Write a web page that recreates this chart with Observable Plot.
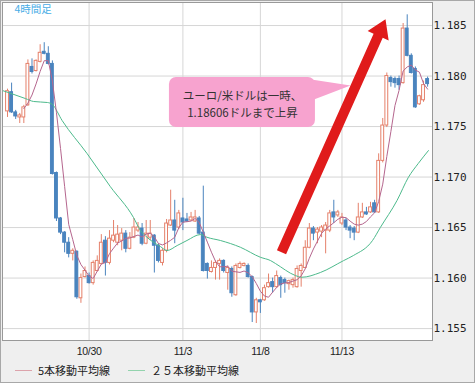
<!DOCTYPE html>
<html><head><meta charset="utf-8">
<script src="https://cdn.jsdelivr.net/npm/d3@7"></script>
<script src="https://cdn.jsdelivr.net/npm/@observablehq/plot@0.6"></script>
<style>
body{margin:0;background:#fff}
#wrap{position:relative;width:475px;height:383px;box-sizing:border-box;border:1px solid #a8a8a8;background:#efefef;overflow:hidden}
#chart svg{display:block}
#chart [aria-label^="y-axis"] text{font-family:"DejaVu Sans Mono",monospace;font-size:11px;fill:#222}
#chart [aria-label^="x-axis"] text{font-family:"Liberation Sans",sans-serif;font-size:10.5px;fill:#222;letter-spacing:-0.3px}
.lg{position:absolute;font-family:"Noto Sans CJK JP",sans-serif;font-size:11px;line-height:14px;color:#222;white-space:nowrap}
.ln{position:absolute;height:1px;width:17px}
</style></head><body>
<div id="wrap"><div id="chart"></div></div>
<script>
// ---- data (EUR/USD 4-hour candles) ----
const opens = [1.1765,1.1784,1.1764,1.1759,1.1759,1.1771,1.1809,1.1805,1.1814,1.1824,
1.1822,1.1812,1.1704,1.1659,1.1645,1.1635,1.1624,1.1626,1.1580,1.1601,
1.1602,1.1595,1.1607,1.1614,1.1637,1.1615,1.1637,1.1635,1.1637,1.1644,
1.1629,1.1640,1.1647,1.1649,1.1634,1.1640,1.1642,1.1632,1.1615,1.1627,
1.1652,1.1657,1.1650,1.1659,1.1658,1.1657,1.1656,1.1659,1.1645,1.1614,
1.1606,1.1610,1.1614,1.1617,1.1605,1.1609,1.1583,1.1610,1.1612,1.1612,
1.1601,1.1566,1.1578,1.1578,1.1591,1.1596,1.1591,1.1600,1.1598,1.1594,
1.1593,1.1591,1.1607,1.1610,1.1630,1.1649,1.1645,1.1646,1.1647,1.1647,
1.1665,1.1662,1.1654,1.1657,1.1650,1.1649,1.1645,1.1660,1.1665,1.1665,
1.1674,1.1665,1.1716,1.1751,1.1798,1.1797,1.1797,1.1793,1.1847,1.1820,
1.1807,1.1772,1.1776,1.1797];
const highs = [1.1787,1.1793,1.1766,1.1763,1.1771,1.1816,1.1817,1.1816,1.1831,1.1833,
1.1829,1.1815,1.1705,1.1660,1.1646,1.1640,1.1629,1.1627,1.1604,1.1611,
1.1605,1.1617,1.1622,1.1643,1.1641,1.1647,1.1657,1.1652,1.1649,1.1647,
1.1645,1.1659,1.1655,1.1654,1.1657,1.1657,1.1643,1.1634,1.1629,1.1658,
1.1687,1.1677,1.1667,1.1679,1.1664,1.1665,1.1667,1.1661,1.1691,1.1615,
1.1617,1.1617,1.1619,1.1618,1.1612,1.1611,1.1614,1.1616,1.1615,1.1614,
1.1602,1.1580,1.1579,1.1593,1.1604,1.1600,1.1607,1.1602,1.1600,1.1598,
1.1600,1.1612,1.1614,1.1637,1.1654,1.1651,1.1650,1.1652,1.1655,1.1667,
1.1677,1.1667,1.1664,1.1659,1.1652,1.1651,1.1674,1.1674,1.1670,1.1675,
1.1677,1.1723,1.1758,1.1803,1.1800,1.1799,1.1800,1.1852,1.18606,1.1822,
1.1809,1.1781,1.1795,1.1799];
const lows = [1.1759,1.1763,1.1757,1.1753,1.1753,1.1770,1.1802,1.1804,1.1813,1.1821,
1.1811,1.1702,1.1656,1.1643,1.1625,1.1620,1.1617,1.1579,1.1575,1.1600,
1.1594,1.1593,1.1606,1.1613,1.1602,1.1613,1.1635,1.1632,1.1627,1.1625,
1.1628,1.1639,1.1645,1.1632,1.1633,1.1637,1.1605,1.1615,1.1612,1.1625,
1.1651,1.1634,1.1648,1.1647,1.1655,1.1656,1.1655,1.1643,1.1606,1.1599,
1.1605,1.1598,1.1598,1.1605,1.1588,1.1581,1.1582,1.1609,1.1611,1.1600,
1.1556,1.1555,1.1565,1.1577,1.1590,1.1585,1.1590,1.1580,1.1585,1.1588,
1.1590,1.1590,1.1591,1.1609,1.1629,1.1637,1.1634,1.1640,1.1624,1.1645,
1.1654,1.1660,1.1652,1.1647,1.1639,1.1637,1.1644,1.1659,1.1662,1.1664,
1.1664,1.1664,1.1714,1.1749,1.1789,1.1788,1.1786,1.1792,1.1819,1.1802,
1.1768,1.1771,1.1774,1.1789];
const closes = [1.1785,1.1764,1.1760,1.1761,1.1769,1.1812,1.1804,1.1815,1.1823,1.1822,
1.1812,1.1703,1.1659,1.1645,1.1635,1.1624,1.1627,1.1581,1.1600,1.1607,
1.1595,1.1615,1.1617,1.1635,1.1615,1.1639,1.1642,1.1643,1.1644,1.1629,
1.1640,1.1650,1.1650,1.1634,1.1644,1.1644,1.1632,1.1617,1.1627,1.1654,
1.1657,1.1647,1.1664,1.1655,1.1656,1.1660,1.1660,1.1644,1.1607,1.1607,
1.1610,1.1615,1.1617,1.1607,1.1610,1.1585,1.1612,1.1614,1.1614,1.1601,
1.1566,1.1578,1.1576,1.1590,1.1595,1.1591,1.1602,1.1593,1.1595,1.1597,
1.1598,1.1609,1.1612,1.1630,1.1649,1.1644,1.1648,1.1650,1.1652,1.1664,
1.1660,1.1665,1.1660,1.1650,1.1647,1.1645,1.1660,1.1665,1.1663,1.1670,
1.1665,1.1716,1.1751,1.1800,1.1794,1.1793,1.1791,1.1847,1.1820,1.1803,
1.1769,1.1780,1.1791,1.1792];

// 25-bar moving average (bar index, value)
const ma25Idx = [-1.2,4.4,6.4,9.8,11.0,13.4,19.5,25.2,30.9,32.6,34.2,37.5,39.1,41.6,44.0,47.3,48.9,52.2,57.1,62.0,64.5,65.7,70.6,72.1,76.7,82.4,84.8,89.5,91.4,95.5,98.3,100.7,103.2];
const ma25Val = [1.17856,1.17777,1.17748,1.17738,1.17718,1.17559,1.17233,1.16906,1.16599,1.16471,1.16404,1.16312,1.16273,1.16322,1.16372,1.16431,1.16404,1.16372,1.16305,1.16206,1.16173,1.16144,1.16025,1.16008,1.16055,1.16173,1.16223,1.16372,1.16500,1.16768,1.16998,1.17134,1.17262];

const xTickIdx = [20, 43, 62, 82];
const xTickLabels = ["10/30", "11/3", "11/8", "11/13"];
const yTicks = [1.155, 1.160, 1.165, 1.170, 1.175, 1.180, 1.185];
const xDomain = [-1.23, 104.2];
const yDomain = [1.15382, 1.18728];

const titleText = ["4時間足"];
const calloutText = ["ユーロ/米ドルは一時、\n1.18606ドルまで上昇"];
const calloutBox = [{x1: 39.7, x2: 75.5, y1: 1.1749, y2: 1.17985}];
const calloutAnchor = [{x: 57.6, y: 1.17733}];
const calloutPointer = [{x: 74.5, y: 1.17965}, {x: 84.1, y: 1.17906}, {x: 74.5, y: 1.17757}];
const arrowTail = [67.3, 1.1625];
const arrowTip = [92.8, 1.18556];

const legendLabels = ["5本移動平均線", "２５本移動平均線"];

// ---- colors ----
const UP = "#e5816b", DOWN = "#4a84be", MA5 = "#b5668e", MA25 = "#4dba8c";
const PINK = "#f7a3cf", ARROW = "#e01b1b";
const legendColors = ["#dca3ab", "#93d3ad"];

const candles = opens.map((o, i) => ({i, open: o, high: highs[i], low: lows[i], close: closes[i]}));
const ups = candles.filter(d => d.close >= d.open);
const downs = candles.filter(d => d.close < d.open);
const ma25 = ma25Idx.map((x, k) => ({x, y: ma25Val[k]}));
const labelMap = new Map(xTickIdx.map((d, k) => [d, xTickLabels[k]]));

const chart = Plot.plot({
  width: 473, height: 358,
  marginLeft: 1, marginRight: 42, marginTop: 1, marginBottom: 19,
  style: {background: "transparent", fontFamily: "Liberation Sans, sans-serif", fontSize: "11px", overflow: "visible"},
  x: {type: "linear", domain: xDomain, ticks: xTickIdx, tickFormat: d => labelMap.get(d), tickSize: 0, tickPadding: 7, label: null},
  y: {type: "linear", domain: yDomain, axis: "right", ticks: yTicks, tickFormat: d3.format(".3f"), tickSize: 0, tickPadding: 1, label: null},
  marks: [
    Plot.frame({fill: "white", stroke: "none"}),
    Plot.ruleY(yTicks, {stroke: "#d6d6d6"}),
    Plot.ruleX(xTickIdx, {stroke: "#d6d6d6"}),
    Plot.text(titleText, {text: d => d, frameAnchor: "top-left", dx: 12, dy: 3, fill: "#48ade6", fontSize: 10.5, fontFamily: "Noto Sans CJK JP"}),
    Plot.ruleX(candles, {x: "i", y1: "low", y2: "high", stroke: d => d.close >= d.open ? UP : DOWN}),
    Plot.rect(ups, {x1: d => d.i - 0.35, x2: d => d.i + 0.35, y1: "open", y2: "close", fill: "white", stroke: UP}),
    Plot.rect(downs, {x1: d => d.i - 0.35, x2: d => d.i + 0.35, y1: "open", y2: "close", fill: DOWN, stroke: DOWN}),
    Plot.line(ma25, {x: "x", y: "y", stroke: MA25, strokeWidth: 1, curve: "monotone-x"}),
    Plot.lineY(candles, Plot.windowY({k: 5, anchor: "end", strict: true, reduce: "mean"}, {x: "i", y: "close", stroke: MA5, strokeWidth: 1})),
    Plot.rect(calloutBox, {x1: "x1", x2: "x2", y1: "y1", y2: "y2", fill: PINK, rx: 7}),
    Plot.line(calloutPointer, {x: "x", y: "y", fill: PINK, stroke: "none"}),
    Plot.text(calloutText, {x: calloutAnchor[0].x, y: calloutAnchor[0].y, text: d => d, fill: "#333", fontSize: 11.5, lineHeight: 1.45, fontFamily: "Noto Sans CJK JP"}),
    Plot.frame({stroke: "#999"})
  ]
});

// arrow annotation through the chart's own scales
const sx = chart.scale("x"), sy = chart.scale("y");
const X = sx.apply ? v => sx.apply(v) : d3.scaleLinear(sx.domain, sx.range);
const Y = sy.apply ? v => sy.apply(v) : d3.scaleLinear(sy.domain, sy.range);
const T = [X(arrowTail[0]), Y(arrowTail[1])], P = [X(arrowTip[0]), Y(arrowTip[1])];
const L = Math.hypot(P[0] - T[0], P[1] - T[1]);
const u = [(P[0] - T[0]) / L, (P[1] - T[1]) / L], n = [-u[1], u[0]];
const w = 10, hw = 23, hl = 18;
const B = [P[0] - u[0] * hl, P[1] - u[1] * hl];
const pt = (p, k) => [p[0] + n[0] * k, p[1] + n[1] * k];
const poly = [pt(T, w/2), pt(B, w/2), pt(B, hw/2), P, pt(B, -hw/2), pt(B, -w/2), pt(T, -w/2)];
d3.select(chart).append("polygon").attr("points", poly.map(p => p.join(",")).join(" ")).attr("fill", ARROW);

document.getElementById("chart").appendChild(chart);

// legend below the SVG
const wrap = document.getElementById("wrap");
const legendPos = [[14, 37], [127, 150]];
legendLabels.forEach((lab, k) => {
  const ln = document.createElement("div");
  ln.className = "ln"; ln.style.left = legendPos[k][0] + "px"; ln.style.top = "369px"; ln.style.background = legendColors[k];
  wrap.appendChild(ln);
  const sp = document.createElement("span");
  sp.className = "lg"; sp.style.left = legendPos[k][1] + "px"; sp.style.top = "362px"; sp.textContent = lab;
  wrap.appendChild(sp);
});
</script>
</body></html>
